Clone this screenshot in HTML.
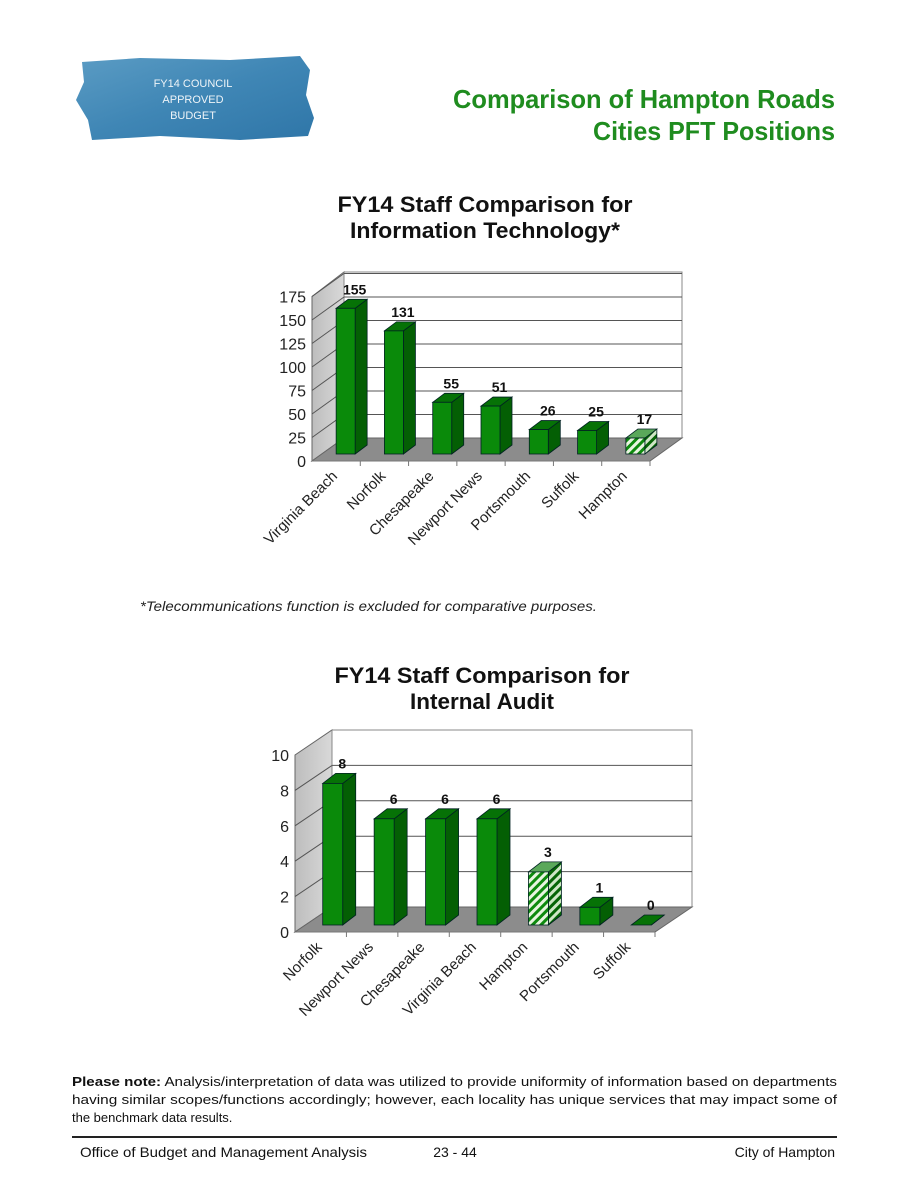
<!DOCTYPE html>
<html><head><meta charset="utf-8"><style>
html,body{margin:0;padding:0;background:#fff;}
body{width:918px;height:1188px;position:relative;overflow:hidden;font-family:"Liberation Sans",Arial,sans-serif;}
.abs{position:absolute;}
</style></head><body>
<svg class="abs" style="left:0;top:0" width="918" height="1188" xmlns="http://www.w3.org/2000/svg">
<defs>
<linearGradient id="wc" x1="0" x2="1" y1="0" y2="1"><stop offset="0" stop-color="#5b9cc4"/><stop offset="0.5" stop-color="#3f86b5"/><stop offset="1" stop-color="#2f76a8"/></linearGradient>
<linearGradient id="side" x1="0" x2="1"><stop offset="0" stop-color="#bdbdbd"/><stop offset="1" stop-color="#d9d9d9"/></linearGradient>
<pattern id="hatch" width="6" height="6" patternUnits="userSpaceOnUse" patternTransform="rotate(45)"><rect width="6" height="6" fill="#0e8a0e"/><rect width="3" height="6" fill="#e8f5e0"/></pattern>
<pattern id="hatchD" width="6" height="6" patternUnits="userSpaceOnUse" patternTransform="rotate(45)"><rect width="6" height="6" fill="#066406"/><rect width="3" height="6" fill="#cfe6c6"/></pattern>
</defs>
<g>
<path d="M82,62 L140,58 L230,60 L300,56 L310,70 L306,95 L314,118 L308,136 L240,140 L160,136 L92,140 L88,120 L76,100 L84,82 Z" fill="url(#wc)"/>
<text x="193" y="87" font-size="11" fill="#eef4f8" text-anchor="middle">FY14 COUNCIL</text>
<text x="193" y="103" font-size="11" fill="#eef4f8" text-anchor="middle">APPROVED</text>
<text x="193" y="119" font-size="11" fill="#eef4f8" text-anchor="middle">BUDGET</text>
</g>
<text x="835" y="108" font-family="'Liberation Sans Narrow','Liberation Sans',sans-serif" font-weight="bold" font-size="26" fill="#1f8c1f" text-anchor="end" textLength="382" lengthAdjust="spacingAndGlyphs">Comparison of Hampton Roads</text>
<text x="835" y="140" font-family="'Liberation Sans Narrow','Liberation Sans',sans-serif" font-weight="bold" font-size="26" fill="#1f8c1f" text-anchor="end" textLength="242" lengthAdjust="spacingAndGlyphs">Cities PFT Positions</text>

<text x="485" y="212" font-size="22" font-weight="bold" text-anchor="middle" fill="#111" textLength="295" lengthAdjust="spacingAndGlyphs">FY14  Staff Comparison for</text>
<text x="485" y="238" font-size="22" font-weight="bold" text-anchor="middle" fill="#111" textLength="270" lengthAdjust="spacingAndGlyphs">Information Technology*</text>
<g id="chart1"></g>
<text x="140" y="611" font-size="14" font-style="italic" fill="#222" textLength="457" lengthAdjust="spacingAndGlyphs">*Telecommunications function is excluded for comparative purposes.</text>

<text x="482" y="683" font-size="22" font-weight="bold" text-anchor="middle" fill="#111" textLength="295" lengthAdjust="spacingAndGlyphs">FY14  Staff Comparison for</text>
<text x="482" y="709" font-size="22" font-weight="bold" text-anchor="middle" fill="#111" textLength="144" lengthAdjust="spacingAndGlyphs">Internal Audit</text>
<g id="chart2"></g>

<g font-size="13" fill="#111">
<text x="72" y="1086" textLength="765" lengthAdjust="spacingAndGlyphs"><tspan font-weight="bold">Please note:</tspan>  Analysis/interpretation of data was utilized to provide uniformity of information based on departments</text>
<text x="72" y="1104" textLength="765" lengthAdjust="spacingAndGlyphs">having similar scopes/functions accordingly; however, each locality has unique services that may impact some of</text>
<text x="72" y="1122">the benchmark data results.</text>
</g>
<line x1="72" y1="1137" x2="837" y2="1137" stroke="#222" stroke-width="2"/>
<text x="80" y="1157" font-size="14" fill="#111" textLength="287" lengthAdjust="spacingAndGlyphs">Office of Budget and Management Analysis</text>
<text x="455" y="1157" font-size="14" fill="#111" text-anchor="middle">23 - 44</text>
<text x="835" y="1157" font-size="14" fill="#111" text-anchor="end">City of Hampton</text>
</svg>
<script>
const itCategories = ["Virginia Beach","Norfolk","Chesapeake","Newport News","Portsmouth","Suffolk","Hampton"];
const itValues = [155,131,55,51,26,25,17];
const itTicks = [0,25,50,75,100,125,150,175];
const auditCategories = ["Norfolk","Newport News","Chesapeake","Virginia Beach","Hampton","Portsmouth","Suffolk"];
const auditValues = [8,6,6,6,3,1,0];
const auditTicks = [0,2,4,6,8,10];
const highlight = "Hampton";

const NS="http://www.w3.org/2000/svg";
function mk(parent,tag,attrs){const e=document.createElementNS(NS,tag);for(const k in attrs)e.setAttribute(k,attrs[k]);parent.appendChild(e);return e;}

function drawChart(g,cats,vals,ticks,geo){
  const {fx0,fx1,fy0,dx,dy,top,max,pxPer,barOff,barW,bdx,bdy}=geo;
  const bx0=fx0+dx,bx1=fx1+dx,by0=fy0-dy;
  const yB=v=>by0-v*pxPer;
  const side=mk(g,'polygon',{points:`${fx0},${fy0} ${fx0},${yB(max)+dy} ${bx0},${top} ${bx0},${by0}`,fill:'url(#side)',stroke:'#666','stroke-width':1});
  
  
  const back=mk(g,'rect',{x:bx0,y:top,width:bx1-bx0,height:by0-top,fill:'#fff',stroke:'#888','stroke-width':1});
  
  
  ticks.forEach(t=>{
    const y=yB(t);
    if(t>0&&y>top+1){const l=mk(g,'line',{x1:bx0,y1:y,x2:bx1,y2:y,stroke:'#555','stroke-width':1});
      
      
      mk(g,'line',{x1:fx0,y1:y+dy,x2:bx0,y2:y,stroke:'#555','stroke-width':1});}
    const tx=mk(g,'text',{x:fx0-6,y:y+dy+6,'font-size':16,'text-anchor':'end',fill:'#222'});
    tx.textContent=t;
    
    
  });
  const floor=mk(g,'polygon',{points:`${fx0},${fy0} ${fx1},${fy0} ${bx1},${by0} ${bx0},${by0}`,fill:'#8c8c8c',stroke:'#666','stroke-width':1});
  
  
  mk(g,'line',{x1:fx0,y1:fy0,x2:fx1,y2:fy0,stroke:'#777','stroke-width':1});
  const cw=(fx1-fx0)/cats.length;
  cats.forEach((c,i)=>{
    const cx=fx0+cw*(i+0.5);
    mk(g,'line',{x1:fx0+cw*(i+1),y1:fy0,x2:fx0+cw*(i+1),y2:fy0+5,stroke:'#777'});
    const v=vals[i];
    const hl=c===highlight;
    const x=cx+barOff, yb=fy0-7, yt=yb-v*pxPer;
    const bg=mk(g,'g',{});
    
    
    mk(bg,'polygon',{points:`${x+barW},${yb} ${x+barW+bdx},${yb-bdy} ${x+barW+bdx},${yt-bdy} ${x+barW},${yt}`,fill:hl?'url(#hatchD)':'#045f04',stroke:'#022',"stroke-width":0.8});
    mk(bg,'polygon',{points:`${x},${yt} ${x+bdx},${yt-bdy} ${x+barW+bdx},${yt-bdy} ${x+barW},${yt}`,fill:hl?'#5aa85a':'#067206',stroke:'#022',"stroke-width":0.8});
    if(v>0) mk(bg,'rect',{x:x,y:yt,width:barW,height:yb-yt,fill:hl?'url(#hatch)':'#0a8a0a',stroke:'#022',"stroke-width":0.8});
    const vl=mk(g,'text',{x:x+barW/2+bdx/2+3,y:yt-bdy-5,'font-size':14,'font-weight':'bold','text-anchor':'middle',fill:'#111'});
    vl.textContent=v;
    
    
    const lx=cx+2, ly=fy0+16;
    const cl=mk(g,'text',{x:lx,y:ly,'font-size':15,'text-anchor':'end',fill:'#222',transform:`rotate(-45 ${lx} ${ly})`});
    cl.textContent=c;
    
    
  });
}
drawChart(document.getElementById('chart1'),itCategories,itValues,itTicks,
  {fx0:312,fx1:650,fy0:461,dx:32,dy:23,top:272,max:175,pxPer:0.94,barOff:0,barW:19,bdx:12,bdy:9});
drawChart(document.getElementById('chart2'),auditCategories,auditValues,auditTicks,
  {fx0:295,fx1:655,fy0:932,dx:37,dy:25,top:730,max:10,pxPer:17.7,barOff:2,barW:20,bdx:13,bdy:10});
</script>
</body></html>
